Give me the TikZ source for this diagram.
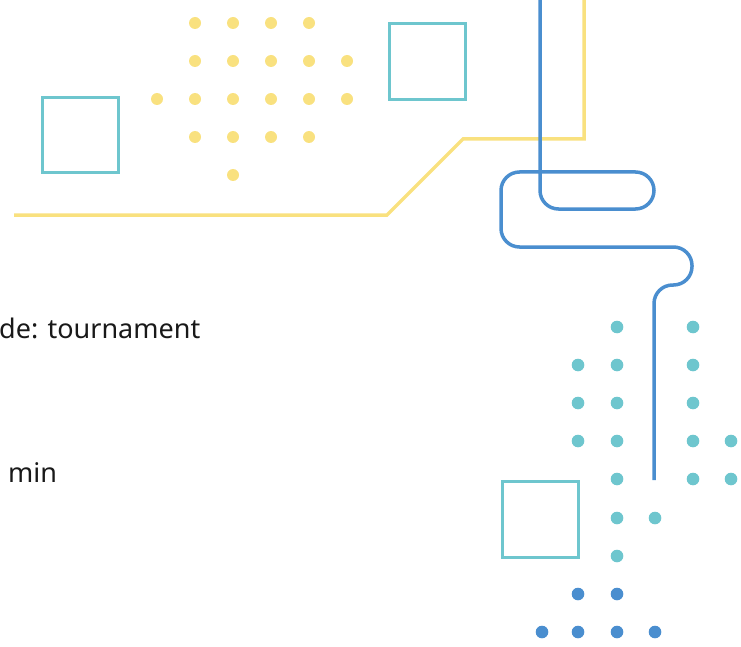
\documentclass[tikz,border=0pt]{standalone}
\usepackage{fontspec}
\setmainfont{Noto Sans}
\definecolor{dotyellow}{HTML}{F9E17F}
\definecolor{tealc}{HTML}{6EC6CE}
\definecolor{bluec}{HTML}{4A8ECF}
\tikzset{
  ydot/.style={fill=dotyellow, draw=none},
  tdot/.style={fill=tealc, draw=none},
  bdot/.style={fill=bluec, draw=none},
  sq/.style={draw=tealc, line width=3pt},
  label/.style={anchor=base west, inner sep=0pt, font=\fontsize{27}{32}\selectfont, text=black!90}
}
\begin{document}
\begin{tikzpicture}[x=1pt,y=-1pt]
\useasboundingbox (0,0) rectangle (741,647);
\clip (0,0) rectangle (741,647);
% yellow dots
\foreach \x in {195,233,271,309} \fill[ydot] (\x,23) circle (6);
\foreach \x in {195,233,271,309,347} \fill[ydot] (\x,61) circle (6);
\foreach \x in {157,195,233,271,309,347} \fill[ydot] (\x,99) circle (6);
\foreach \x in {195,233,271,309} \fill[ydot] (\x,137) circle (6);
\fill[ydot] (233,175) circle (6);
% teal squares
\draw[sq] (42,98) rectangle (118,173);
\draw[sq] (389,24) rectangle (465,100);
\draw[sq] (502,481) rectangle (578,557);
% yellow line
\draw[dotyellow, line width=3.5pt] (14,215) -- (387,215) -- (463,139) -- (584,139) -- (584,-5);
% blue line
\draw[bluec, line width=3.5pt, rounded corners=18.5pt]
  (540,-5) -- (540,209) -- (654,209) -- (654,172) -- (501,172) -- (501,247)
  -- (692,247) -- (692,285) -- (654,285) -- (654,480);
% teal dots
\foreach \x/\y in {617/327,693/327,578/365,617/365,693/365,578/403,617/403,693/403,
  578/441,617/441,693/441,731/441,617/479,693/479,731/479,617/518,655/518,617/556}
  \fill[tdot] (\x,\y) circle (6.3);
\foreach \x/\y in {578/594,617/594,542/632,578/632,617/632,655/632}
  \fill[bdot] (\x,\y) circle (6.3);
% texts
\node[label] (t1) at (-1,338) {de: tournament};
\node[label] (t2) at (8,482) {min};
\end{tikzpicture}
\end{document}
